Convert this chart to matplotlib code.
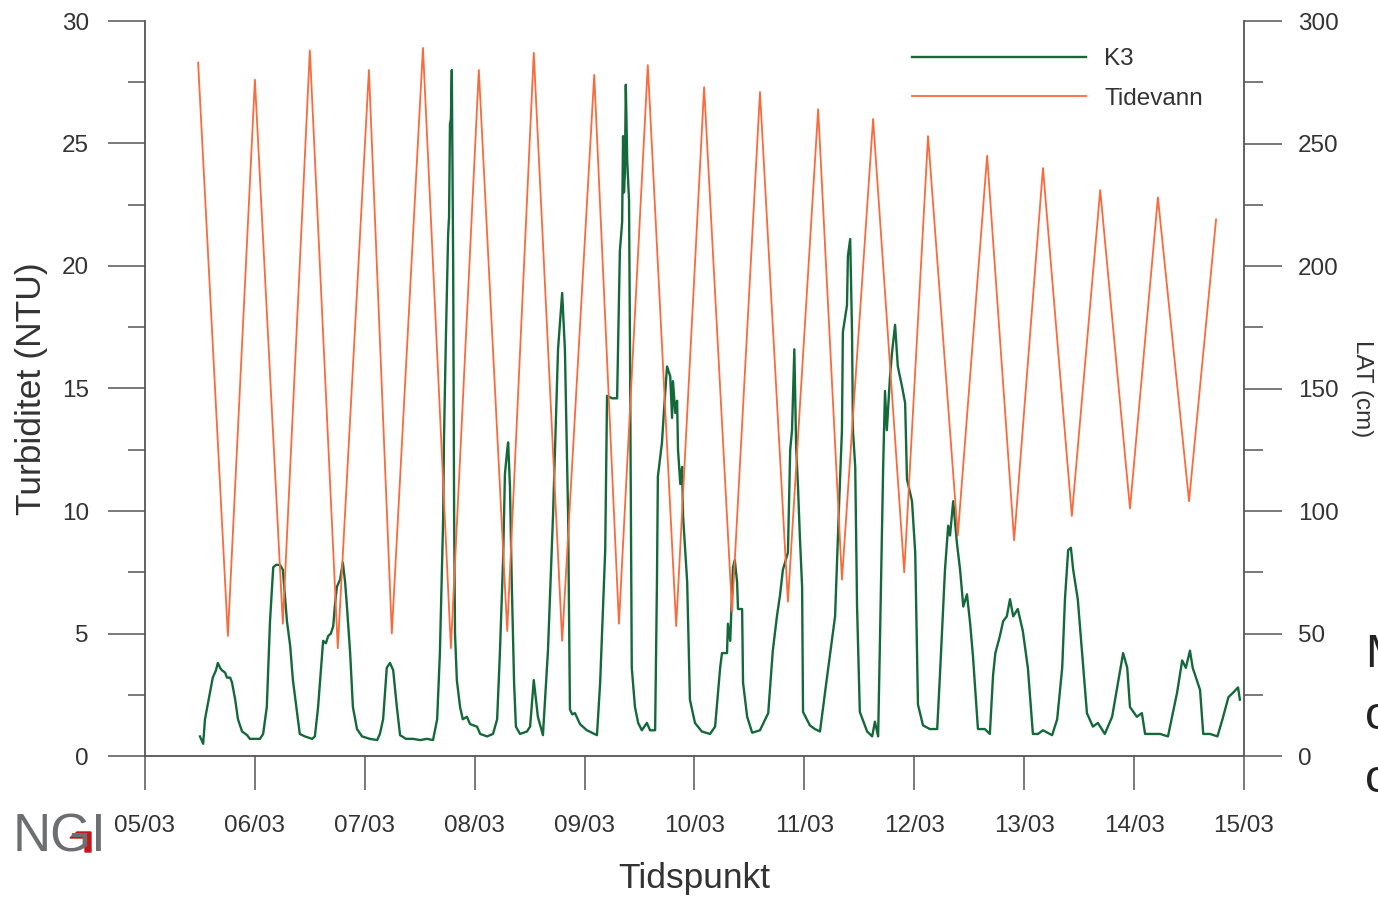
import numpy as np
import pandas as pd
import matplotlib
matplotlib.use('Agg')
import matplotlib.pyplot as plt
import matplotlib.dates as mdates
from matplotlib.ticker import MultipleLocator
from matplotlib.patches import Polygon

plt.rcParams['font.family'] = ['Liberation Sans', 'DejaVu Sans']

# Tidevann: høy- og lavvann (timer etter 05/03 00:00, cm over LAT)
tide_hours = [11.6, 18.1, 24.0, 30.1, 36.0, 42.1, 48.9, 53.9, 60.7, 66.8, 72.9, 79.1,
              84.9, 91.1, 98.1, 103.5, 109.8, 116.0, 122.1, 128.2, 134.3, 140.4,
              147.0, 152.2, 159.0, 165.8, 171.0, 177.5, 183.9, 189.8, 196.1, 202.4,
              208.6, 215.1, 221.2, 228.0, 233.9]
tide_cm = [283, 49, 276, 54, 288, 44, 280, 50, 289, 44, 280, 51,
           287, 47, 278, 54, 282, 53, 273, 59, 271, 63,
           264, 72, 260, 75, 253, 90, 245, 88, 240, 98,
           231, 101, 228, 104, 219]

# Turbiditet ved K3 (timer etter 05/03 00:00, NTU)
k3_hours = [12.0, 12.7, 13.1, 13.8, 14.2, 14.8, 15.5, 15.9, 16.4, 16.8, 17.5, 17.9,
            18.6, 19.0, 19.7, 20.3, 21.2, 22.3, 22.9, 24.0, 25.1, 25.8, 26.6, 27.3,
            28.0, 28.6, 29.5, 30.1, 31.0, 31.7, 32.3, 33.2, 33.8, 34.9, 36.5, 37.1,
            37.8, 38.7, 38.9, 39.5, 40.0, 40.6, 41.1, 41.5, 41.9, 42.6, 43.2, 43.7,
            44.1, 44.8, 45.4, 46.3, 47.4, 49.1, 50.7, 51.3, 52.0, 52.8, 53.5, 54.2,
            55.0, 55.7, 57.0, 58.5, 60.1, 61.6, 62.9, 63.8, 64.4, 65.1, 65.3, 65.7,
            66.2, 66.4, 66.6, 66.8, 67.0, 67.3, 67.5, 67.7, 68.1, 68.8, 69.4, 70.3,
            71.0, 72.5, 73.2, 74.7, 76.0, 76.9, 77.5, 78.2, 78.6, 79.1, 79.3, 79.7,
            80.1, 80.6, 81.0, 81.9, 83.4, 84.1, 84.9, 85.8, 86.9, 88.0, 89.1, 90.2,
            91.1, 91.7, 92.4, 92.8, 93.3, 93.9, 95.0, 96.5, 98.7, 99.4, 100.0, 100.5,
            100.9, 102.0, 103.1, 103.3, 103.7, 104.2, 104.4, 104.6, 104.8, 105.0, 105.3, 105.7,
            105.9, 106.1, 106.3, 107.0, 107.7, 108.5, 109.6, 110.3, 111.4, 111.8, 112.0, 112.9,
            113.3, 114.0, 114.7, 115.1, 115.3, 115.8, 116.2, 116.4, 116.9, 117.3, 117.5, 118.4,
            119.0, 120.1, 121.6, 123.4, 124.5, 125.6, 126.0, 127.1, 127.3, 127.8, 128.4, 128.8,
            129.3, 129.5, 130.4, 130.6, 131.5, 132.6, 134.3, 136.1, 137.1, 138.0, 138.7, 139.3,
            140.4, 140.9, 141.3, 141.8, 142.2, 142.6, 143.0, 143.5, 143.7, 145.2, 146.3, 147.4,
            149.0, 150.7, 151.6, 152.2, 152.4, 153.3, 153.5, 154.0, 154.4, 154.6, 155.1, 155.5,
            156.1, 157.7, 158.8, 159.4, 160.1, 160.5, 161.2, 161.6, 162.0, 162.7, 163.1, 163.8,
            164.4, 165.3, 166.0, 166.4, 167.5, 168.2, 168.8, 169.9, 171.4, 173.0, 173.6, 174.7,
            175.4, 175.8, 176.5, 177.3, 178.0, 178.7, 179.5, 180.2, 180.8, 181.9, 183.4, 184.5,
            185.2, 185.7, 186.7, 187.4, 188.2, 188.9, 189.6, 190.6, 191.7, 192.8, 193.9, 195.0,
            196.1, 198.1, 199.2, 200.3, 200.9, 201.6, 202.2, 202.7, 203.7, 204.6, 205.7, 207.0,
            208.1, 209.6, 211.2, 212.5, 213.6, 214.5, 215.1, 216.6, 217.7, 218.4, 221.7, 223.4,
            225.4, 226.5, 227.3, 228.2, 228.8, 230.4, 231.1, 232.6, 234.2, 235.3, 236.6, 237.7,
            238.7, 239.1]
k3_ntu = [0.8, 0.5, 1.5, 2.2, 2.6, 3.2, 3.5, 3.8, 3.6, 3.5, 3.4, 3.2,
          3.2, 3.0, 2.3, 1.5, 1.0, 0.85, 0.7, 0.7, 0.7, 0.9, 2.0, 5.5,
          7.7, 7.8, 7.8, 7.6, 5.5, 4.5, 3.1, 1.8, 0.9, 0.8, 0.7, 0.8,
          2.0, 4.2, 4.7, 4.6, 4.9, 5.0, 5.3, 6.2, 6.9, 7.2, 7.9, 7.1,
          6.1, 4.2, 2.0, 1.1, 0.8, 0.7, 0.65, 0.9, 1.5, 3.6, 3.8, 3.5,
          2.0, 0.85, 0.7, 0.7, 0.65, 0.7, 0.65, 1.5, 4.2, 9.6, 13.0, 17.0,
          21.3, 22.0, 25.8, 26.0, 28.0, 20.0, 10.0, 5.0, 3.1, 2.0, 1.5, 1.6,
          1.3, 1.2, 0.9, 0.8, 0.9, 1.5, 4.2, 8.0, 11.5, 12.5, 12.8, 11.0,
          7.0, 3.0, 1.2, 0.9, 1.0, 1.2, 3.1, 1.6, 0.85, 4.3, 9.8, 16.6,
          18.9, 16.6, 9.8, 1.9, 1.7, 1.75, 1.3, 1.05, 0.85, 3.0, 6.0, 8.4,
          14.7, 14.6, 14.6, 16.6, 20.6, 21.8, 25.3, 23.0, 23.8, 27.4, 24.3, 22.7,
          17.0, 10.0, 3.6, 2.0, 1.35, 1.05, 1.35, 1.05, 1.05, 7.1, 11.4, 12.8,
          14.0, 15.9, 15.5, 13.8, 15.3, 14.0, 14.5, 12.5, 11.1, 11.8, 9.8, 7.1,
          2.3, 1.35, 1.0, 0.9, 1.2, 3.6, 4.2, 4.2, 5.4, 4.7, 7.7, 8.0,
          7.1, 6.0, 6.0, 3.0, 1.6, 0.95, 1.05, 1.75, 4.3, 5.7, 6.6, 7.6,
          8.3, 12.5, 13.3, 16.6, 12.6, 11.0, 9.0, 6.9, 1.8, 1.25, 1.1, 1.0,
          3.3, 5.7, 10.4, 13.3, 17.3, 18.4, 20.4, 21.1, 17.3, 13.3, 11.8, 6.1,
          1.8, 1.0, 0.8, 1.4, 0.8, 4.7, 11.8, 14.9, 13.3, 15.5, 16.4, 17.6,
          15.9, 15.1, 14.4, 11.3, 10.4, 8.3, 2.1, 1.25, 1.1, 1.1, 3.3, 7.6,
          9.4, 9.0, 10.4, 8.7, 7.6, 6.1, 6.6, 5.4, 4.1, 1.1, 1.1, 0.9,
          3.3, 4.2, 4.9, 5.5, 5.7, 6.4, 5.7, 6.0, 5.1, 3.6, 0.9, 0.9,
          1.05, 0.85, 1.5, 3.6, 6.4, 8.4, 8.5, 7.6, 6.4, 4.3, 1.75, 1.2,
          1.35, 0.9, 1.6, 3.0, 4.2, 3.6, 2.0, 1.6, 1.75, 0.9, 0.9, 0.8,
          2.6, 3.9, 3.6, 4.3, 3.6, 2.7, 0.9, 0.9, 0.8, 1.5, 2.4, 2.6,
          2.8, 2.3]

start = pd.Timestamp('2011-03-05')
end = pd.Timestamp('2011-03-15')
tide_t = start + pd.to_timedelta(tide_hours, unit='h')
k3_t = start + pd.to_timedelta(k3_hours, unit='h')

W, H = 1378, 897
fig = plt.figure(figsize=(W / 100, H / 100), dpi=100)
ax = fig.add_axes([145 / W, 1 - 756 / H, 1099 / W, 735 / H])
ax2 = ax.twinx()

green = '#14693a'
orange = '#fa6a3c'
axis_col = '#555555'
text_col = '#333333'

l1, = ax.plot(k3_t, k3_ntu, color=green, lw=1.7, label='K3')
l2, = ax2.plot(tide_t, tide_cm, color=orange, lw=1.3, label='Tidevann')

ax.set_xlim(start, end)
ax.set_ylim(0, 30)
ax2.set_ylim(0, 300)

ax.xaxis.set_major_locator(mdates.DayLocator())
ax.xaxis.set_major_formatter(mdates.DateFormatter('%d/%m'))
ax.yaxis.set_major_locator(MultipleLocator(5))
ax.yaxis.set_minor_locator(MultipleLocator(2.5))
ax2.yaxis.set_major_locator(MultipleLocator(50))
ax2.yaxis.set_minor_locator(MultipleLocator(25))

for a in (ax, ax2):
    for s in a.spines.values():
        s.set_color(axis_col)
        s.set_linewidth(1.3)
    a.spines['top'].set_visible(False)
ax.spines['right'].set_visible(False)
ax2.spines['left'].set_visible(False)
ax2.spines['bottom'].set_visible(False)

ax.tick_params(axis='y', which='major', direction='out', length=26.5, width=1.1,
               color=axis_col, pad=14, labelsize=17.5, labelcolor=text_col)
ax.tick_params(axis='y', which='minor', direction='out', length=12.5, width=1.1,
               color=axis_col)
ax.tick_params(axis='x', which='major', direction='out', length=24.5, width=1.1,
               color=axis_col, pad=18, labelsize=17.5, labelcolor=text_col)
ax2.tick_params(axis='y', which='major', direction='out', length=27, width=1.1,
                color=axis_col, pad=12, labelsize=17.5, labelcolor=text_col)
ax2.tick_params(axis='y', which='minor', direction='out', length=14, width=1.1,
                color=axis_col)

ax.set_ylabel('Turbiditet (NTU)', fontsize=25.5, color=text_col, va='center')
ax.yaxis.set_label_coords(-0.103, 0.5)
ax2.set_ylabel('LAT (cm)', fontsize=17.5, color=text_col, rotation=270, va='center')
ax2.yaxis.set_label_coords(1.107, 0.5)
ax.set_xlabel('Tidspunkt', fontsize=25.5, color=text_col, va='center')
ax.xaxis.set_label_coords(0.4995, -0.166)

ax2.legend([l1, l2], ['K3', 'Tidevann'], loc='upper left', frameon=False,
           bbox_to_anchor=(912 / W, 1 - 48 / H), bbox_transform=fig.transFigure,
           fontsize=17.5, handlelength=7.15, handletextpad=0.75, labelspacing=0.72,
           borderpad=0, borderaxespad=0, labelcolor=text_col)

# NGI-logo nede til venstre
fig.text(13 / W, 1 - 851 / H, 'NGI', fontsize=38, color='#6d6e71', va='baseline')
red_px = np.array([(70, 838), (77, 832), (91, 832), (91, 852), (85, 852), (85, 838)])
fig.patches.append(Polygon(np.c_[red_px[:, 0] / W, 1 - red_px[:, 1] / H],
                           closed=True, color='#c4161c', transform=fig.transFigure))

# avkuttet brødtekst til høyre
for y, s in [(655, 'M'), (717, 'o'), (780, 'o')]:
    fig.text(1365 / W, 1 - y / H, s, fontsize=34, color='#222222', va='center')

fig.savefig('out.png', dpi=100)
